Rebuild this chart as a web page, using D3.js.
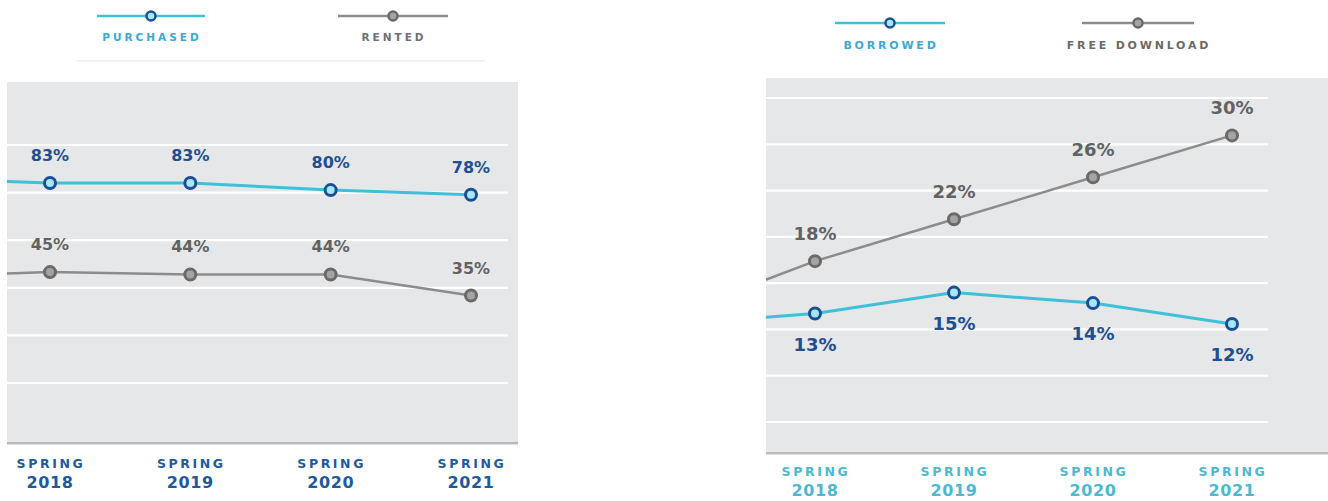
<!DOCTYPE html>
<html><head><meta charset="utf-8">
<script src="https://cdn.jsdelivr.net/npm/d3@7/dist/d3.min.js"></script>
<style>
html,body{margin:0;padding:0;background:#fff;}
svg{display:block;font-family:"DejaVu Sans",sans-serif;}
</style></head>
<body><svg id="c" width="1328" height="501"></svg>
<script>
// ---- data ----
const seasons = ["SPRING 2018", "SPRING 2019", "SPRING 2020", "SPRING 2021"];
const priorSeason = "SPRING 2017"; // partially visible at the left edge (clipped)
const purchased = [83, 83, 80, 78];
const rented = [45, 44, 44, 35];
const borrowed = [13, 15, 14, 12];
const freeDownload = [18, 22, 26, 30];
const purchasedPrior = 85;
const rentedPrior = 43;
const borrowedPrior = 12;
const freeDownloadPrior = 13;
const leftLegend = ["PURCHASED", "RENTED"];
const rightLegend = ["BORROWED", "FREE DOWNLOAD"];

// ---- styles ----
const BLUE_LINE = "#3ec0d8", BLUE_RING = "#1b4f95", BLUE_FILL = "#a9e6f3";
const GRAY_LINE = "#8c8c8c", GRAY_RING = "#6a6a6a", GRAY_FILL = "#a4a4a4";
const PANEL = "#e6e7e9";

const svg = d3.select("#c");

function panel(cfg) {
  const g = svg.append("g");
  const id = "clip" + cfg.key;
  g.append("clipPath").attr("id", id).append("rect")
    .attr("x", cfg.px0).attr("y", cfg.py0).attr("width", cfg.px1 - cfg.px0).attr("height", cfg.py1 - cfg.py0);
  g.append("rect").attr("x", cfg.px0).attr("y", cfg.py0)
    .attr("width", cfg.px1 - cfg.px0).attr("height", cfg.py1 - cfg.py0).attr("fill", PANEL);
  // gridlines
  const gs = d3.scaleLinear().domain([0, cfg.gridCount - 1]).range([cfg.gridTop, cfg.gridBottom]);
  g.selectAll(".grid").data(d3.range(cfg.gridCount)).join("line")
    .attr("x1", cfg.px0).attr("x2", cfg.gridRight)
    .attr("y1", d => gs(d)).attr("y2", d => gs(d))
    .attr("stroke", "#ffffff").attr("stroke-width", 2.2);
  // bottom edge
  g.append("rect").attr("x", cfg.px0).attr("y", cfg.py1 - 1).attr("width", cfg.px1 - cfg.px0).attr("height", 2.5)
    .attr("fill", "#b9bbbe");

  const x = d3.scalePoint().domain(seasons).range(cfg.xRange);
  const y = d3.scaleLinear().domain(cfg.yDomain).range(cfg.yRange);
  const xp = i => i < 0 ? x(seasons[0]) - x.step() : x(seasons[i]);

  const plot = g.append("g").attr("clip-path", `url(#${id})`);
  cfg.series.forEach(s => {
    const pts = [[-1, s.prior]].concat(s.values.map((v, i) => [i, v]));
    plot.append("path").datum(pts)
      .attr("d", d3.line().x(d => xp(d[0])).y(d => y(d[1])))
      .attr("fill", "none").attr("stroke", s.line).attr("stroke-width", s.width)
      .attr("stroke-linejoin", "round");
  });
  cfg.series.forEach(s => {
    plot.selectAll(null).data(s.values).join("circle")
      .attr("cx", (d, i) => xp(i)).attr("cy", d => y(d)).attr("r", 5.5)
      .attr("fill", s.fill).attr("stroke", s.ring).attr("stroke-width", 3);
    g.selectAll(null).data(s.values).join("text")
      .attr("x", (d, i) => xp(i))
      .attr("y", d => y(d) + (s.labelPos === "above" ? -cfg.aboveOff : cfg.belowOff))
      .attr("text-anchor", "middle").attr("font-weight", "bold")
      .attr("font-size", cfg.labelSize).attr("fill", s.labelColor)
      .text(d => d + "%");
  });
  // x axis labels (two lines each)
  g.selectAll(".xl1").data(seasons).join("text")
    .attr("x", d => x(d) + 1).attr("y", cfg.axisY1)
    .attr("text-anchor", "middle").attr("font-weight", "bold").attr("fill", cfg.axisColor)
    .attr("font-size", 12.5).attr("letter-spacing", 2.6).text(d => d.split(" ")[0]);
  g.selectAll(".xl2").data(seasons).join("text")
    .attr("x", d => x(d)).attr("y", cfg.axisY2)
    .attr("text-anchor", "middle").attr("font-weight", "bold").attr("fill", cfg.axisColor)
    .attr("font-size", 16).attr("letter-spacing", 0.6).text(d => d.split(" ")[1]);

  // legend
  cfg.legend.forEach((L, i) => {
    const lg = g.append("g");
    lg.append("line").attr("x1", L.x - L.half).attr("x2", L.x + L.half)
      .attr("y1", cfg.legendY).attr("y2", cfg.legendY)
      .attr("stroke", L.s.line).attr("stroke-width", 2.5);
    lg.append("circle").attr("cx", L.x).attr("cy", cfg.legendY).attr("r", 4.5)
      .attr("fill", L.s.fill).attr("stroke", L.s.ring).attr("stroke-width", 2.5);
    lg.append("text").attr("x", L.x + 1).attr("y", cfg.legendTextY)
      .attr("text-anchor", "middle").attr("font-weight", "bold")
      .attr("font-size", cfg.legendSize).attr("letter-spacing", cfg.legendSpacing)
      .attr("fill", L.color).text(L.text);
  });
}

const blueStyle = { line: BLUE_LINE, ring: BLUE_RING, fill: BLUE_FILL, width: 3, labelColor: "#1f4f8e" };
const grayStyle = { line: GRAY_LINE, ring: GRAY_RING, fill: GRAY_FILL, width: 2.5, labelColor: "#626262" };

// faint legend frame line (left)
svg.append("line").attr("x1", 77).attr("x2", 485).attr("y1", 61).attr("y2", 61)
  .attr("stroke", "#eeeeee").attr("stroke-width", 1.5);

panel({
  key: "L", px0: 7, px1: 518, py0: 82, py1: 443,
  gridCount: 6, gridTop: 145, gridBottom: 383, gridRight: 508,
  xRange: [50, 471], yDomain: [0, 100], yRange: [377.6, 143.2],
  aboveOff: 22, belowOff: 40, labelSize: 16,
  axisColor: "#1f5a9a", axisY1: 468, axisY2: 488,
  legendY: 16, legendTextY: 41, legendSize: 10.5, legendSpacing: 3,
  series: [
    Object.assign({ values: purchased, prior: purchasedPrior, labelPos: "above" }, blueStyle),
    Object.assign({ values: rented, prior: rentedPrior, labelPos: "above" }, grayStyle)
  ],
  legend: [
    { x: 151, half: 54, s: blueStyle, color: "#3ba9d0", text: leftLegend[0] },
    { x: 393, half: 55, s: grayStyle, color: "#707070", text: leftLegend[1] }
  ]
});

panel({
  key: "R", px0: 766, px1: 1328, py0: 78, py1: 453,
  gridCount: 8, gridTop: 98, gridBottom: 422, gridRight: 1268,
  xRange: [815, 1232], yDomain: [0, 30], yRange: [449.8, 135.4],
  aboveOff: 21, belowOff: 37, labelSize: 18,
  axisColor: "#4cb9d0", axisY1: 476, axisY2: 496,
  legendY: 23, legendTextY: 49, legendSize: 11, legendSpacing: 2.8,
  series: [
    Object.assign({ values: freeDownload, prior: freeDownloadPrior, labelPos: "above" }, grayStyle),
    Object.assign({ values: borrowed, prior: borrowedPrior, labelPos: "below" }, blueStyle)
  ],
  legend: [
    { x: 890, half: 55, s: blueStyle, color: "#3ba9d0", text: rightLegend[0] },
    { x: 1138, half: 56, s: grayStyle, color: "#6a6a6a", text: rightLegend[1] }
  ]
});
</script></body></html>
